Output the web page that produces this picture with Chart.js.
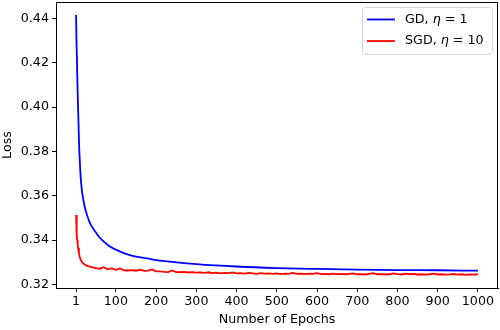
<!DOCTYPE html>
<html>
<head>
<meta charset="utf-8">
<script src="https://cdn.jsdelivr.net/npm/chart.js@4.4.0/dist/chart.umd.min.js"></script>
<style>
  html, body { margin: 0; padding: 0; background: #fff; }
  #wrap { width: 500px; height: 330px; }
</style>
</head>
<body>
<div id="wrap"><canvas id="chart" width="500" height="330"></canvas></div>
<script>
// values
const gdEpochs = [1, 2, 3, 4, 5, 6, 7, 8, 10, 13, 16, 21, 25, 33, 40, 50, 58, 70, 80, 91, 100, 115, 133, 150, 182, 200, 250, 300, 400, 500, 600, 700, 800, 900, 1000];
const gdLoss = [0.4415, 0.430, 0.422, 0.414, 0.406, 0.399, 0.393, 0.3855, 0.3765, 0.3670, 0.3615, 0.3563, 0.3533, 0.3488, 0.3462, 0.3435, 0.3415, 0.3393, 0.3378, 0.3365, 0.3357, 0.3345, 0.3333, 0.3325, 0.3316, 0.3310, 0.3300, 0.3292, 0.3281, 0.3274, 0.3270, 0.3267, 0.3265, 0.3264, 0.3262];

const sgdEpochs = [1, 2, 3, 4, 5, 6, 8, 10, 12, 15, 20, 25, 30, 40, 50,
  60, 70, 80, 90, 100, 110, 120, 130, 140, 150, 160, 170, 180, 190, 200,
  210, 220, 230, 240, 250, 260, 270, 280, 290, 300, 310, 320, 330, 340, 350,
  360, 370, 380, 390, 400, 410, 420, 430, 440, 450, 460, 470, 480, 490, 500,
  510, 520, 530, 540, 550, 560, 570, 580, 590, 600, 610, 620, 630, 640, 650,
  660, 670, 680, 690, 700, 710, 720, 730, 740, 750, 760, 770, 780, 790, 800,
  810, 820, 830, 840, 850, 860, 870, 880, 890, 900, 910, 920, 930, 940, 950,
  960, 970, 980, 990, 1000];
const sgdLoss = [0.3513, 0.345, 0.342, 0.3398, 0.338, 0.3365, 0.3340, 0.3325, 0.3313, 0.3302, 0.3293, 0.3287, 0.3283, 0.3278, 0.3274,
  0.3271, 0.3278, 0.3268, 0.3272, 0.3266, 0.3272, 0.3264, 0.3263, 0.3265, 0.3262, 0.3267, 0.3261, 0.3262, 0.3268, 0.3259,
  0.3259, 0.3257, 0.3256, 0.3263, 0.3256, 0.3255, 0.3257, 0.3254, 0.3256, 0.3253, 0.3254, 0.3252, 0.3255, 0.3251, 0.3253,
  0.3250, 0.3252, 0.3251, 0.3254, 0.3250, 0.3251, 0.3249, 0.3252, 0.3250, 0.3248, 0.3251, 0.3249, 0.3250, 0.3248, 0.3250,
  0.3247, 0.3249, 0.3248, 0.3252, 0.3248, 0.3249, 0.3247, 0.3249, 0.3248, 0.3251, 0.3247, 0.3248, 0.3246, 0.3249, 0.3247,
  0.3248, 0.3246, 0.3248, 0.3250, 0.3246, 0.3247, 0.3245, 0.3248, 0.3251, 0.3246, 0.3247, 0.3245, 0.3246, 0.3250, 0.3247,
  0.3245, 0.3249, 0.3246, 0.3248, 0.3245, 0.3246, 0.3244, 0.3246, 0.3249, 0.3245, 0.3246, 0.3244, 0.3245, 0.3247, 0.3244,
  0.3246, 0.3243, 0.3245, 0.3244, 0.3246];

const xTicks = [1, 100, 200, 300, 400, 500, 600, 700, 800, 900, 1000];
const yTicks = [0.32, 0.34, 0.36, 0.38, 0.40, 0.42, 0.44];
const seriesLabels = ["GD, η = 1", "SGD, η = 10"];

const FONT = "'DejaVu Sans', sans-serif";
const FS = 12.7;

// matplotlib style frame + legend inside the axes
const framePlugin = {
  id: 'frame',
  afterDraw(chart) {
    const ctx = chart.ctx;
    const a = chart.chartArea;
    ctx.save();
    ctx.strokeStyle = '#000';
    ctx.lineWidth = 1;
    ctx.strokeRect(a.left + 0.5, a.top + 0.5, a.right - a.left - 1, a.bottom - a.top);

    // legend
    const bx = 362.5, by = 7.5, bw = 130, bh = 47, r = 3;
    ctx.beginPath();
    ctx.moveTo(bx + r, by);
    ctx.arcTo(bx + bw, by, bx + bw, by + bh, r);
    ctx.arcTo(bx + bw, by + bh, bx, by + bh, r);
    ctx.arcTo(bx, by + bh, bx, by, r);
    ctx.arcTo(bx, by, bx + bw, by, r);
    ctx.closePath();
    ctx.fillStyle = 'rgba(255,255,255,0.8)';
    ctx.fill();
    ctx.strokeStyle = '#d6d6d6';
    ctx.lineWidth = 1;
    ctx.stroke();

    chart.data.datasets.forEach((ds, i) => {
      const y = 19.5 + i * 21.5;
      ctx.strokeStyle = ds.borderColor;
      ctx.lineWidth = 1.8;
      ctx.beginPath();
      ctx.moveTo(367, y);
      ctx.lineTo(395, y);
      ctx.stroke();
      ctx.fillStyle = '#000';
      ctx.textBaseline = 'middle';
      let x = 405;
      const parts = ds.label.split('η');
      parts.forEach((p, k) => {
        ctx.font = FS + 'px ' + FONT;
        ctx.fillText(p, x, y);
        x += ctx.measureText(p).width;
        if (k < parts.length - 1) {
          ctx.font = 'italic ' + FS + 'px ' + FONT;
          ctx.fillText('η', x, y);
          x += ctx.measureText('η').width;
        }
      });
    });
    ctx.restore();
  }
};

const toPoints = (xs, ys) => xs.map((x, i) => ({ x: x, y: ys[i] }));

new Chart(document.getElementById('chart').getContext('2d'), {
  type: 'line',
  data: {
    datasets: [{
      label: seriesLabels[0],
      data: toPoints(gdEpochs, gdLoss),
      borderColor: '#0000ff',
      borderWidth: 1.8,
      pointRadius: 0,
      cubicInterpolationMode: 'monotone',
      fill: false
    }, {
      label: seriesLabels[1],
      data: toPoints(sgdEpochs, sgdLoss),
      borderColor: '#ff0000',
      borderWidth: 1.8,
      pointRadius: 0,
      tension: 0,
      fill: false
    }]
  },
  options: {
    responsive: false,
    animation: false,
    layout: { padding: { top: 2, right: 2, left: 0, bottom: 0 } },
    plugins: {
      legend: { display: false },
      tooltip: { enabled: false }
    },
    scales: {
      x: {
        type: 'linear',
        min: -48.95,
        max: 1049.95,
        afterBuildTicks: s => { s.ticks = xTicks.map(v => ({ value: v })); },
        afterFit: s => { s.height = 42; s.paddingLeft = 0; s.paddingRight = 0; },
        grid: { drawOnChartArea: false, drawTicks: true, tickLength: 4, color: '#000' },
        border: { display: true, color: '#000', width: 1 },
        ticks: { color: '#000', font: { family: FONT, size: FS }, padding: 2, maxRotation: 0, autoSkip: false, callback: v => String(v) },
        title: { display: true, text: 'Number of Epochs', color: '#000', font: { family: FONT, size: FS }, padding: { top: 0, bottom: 3 } }
      },
      y: {
        type: 'linear',
        min: 0.3184,
        max: 0.4474,
        afterBuildTicks: s => { s.ticks = yTicks.map(v => ({ value: v })); },
        afterFit: s => { s.width = 56; s.paddingTop = 0; s.paddingBottom = 0; },
        grid: { drawOnChartArea: false, drawTicks: true, tickLength: 4, color: '#000' },
        border: { display: true, color: '#000', width: 1 },
        ticks: { color: '#000', font: { family: FONT, size: FS }, padding: 3, autoSkip: false, callback: v => v.toFixed(2) },
        title: { display: true, text: 'Loss', color: '#000', font: { family: FONT, size: FS }, padding: 0 }
      }
    }
  },
  plugins: [framePlugin]
});
</script>
</body>
</html>
